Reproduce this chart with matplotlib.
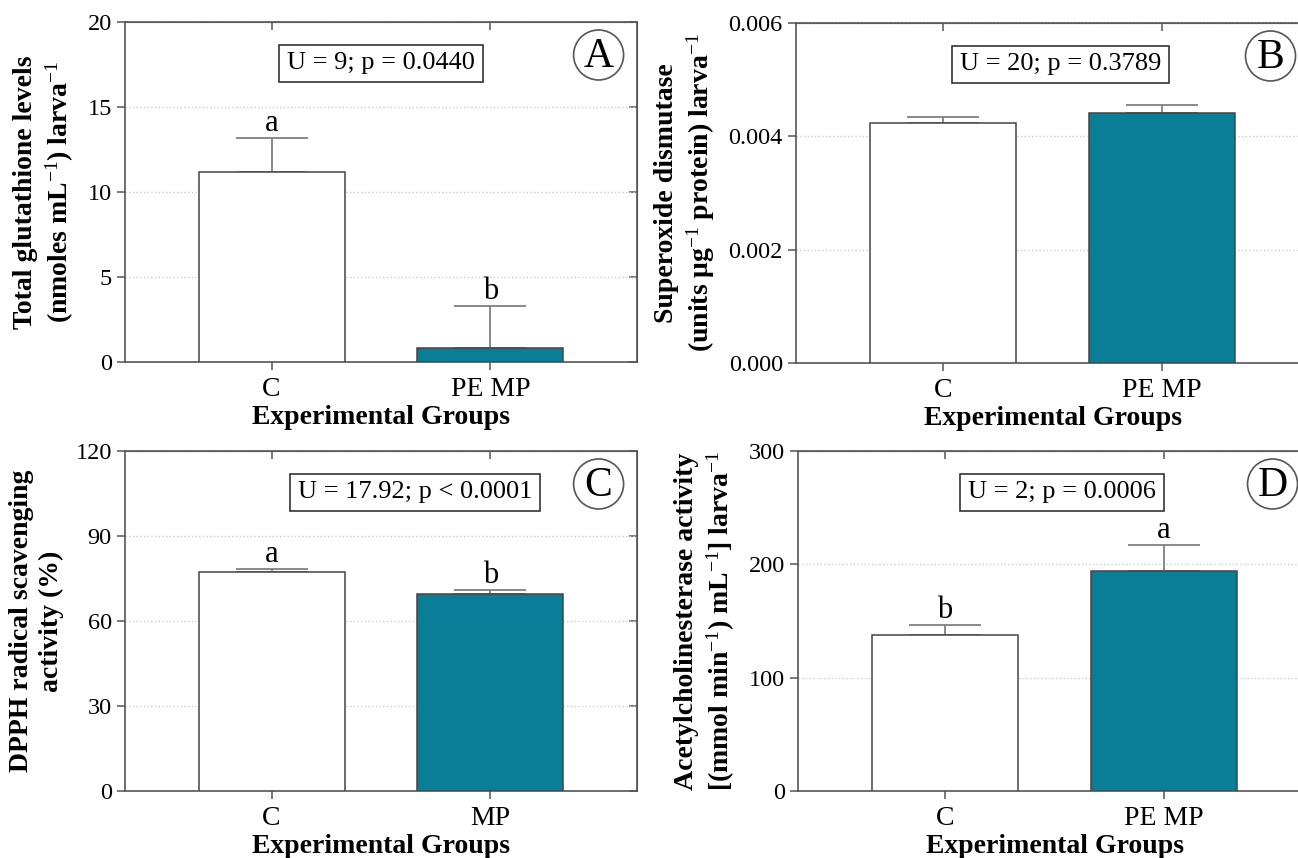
import numpy as np
import matplotlib
matplotlib.use('Agg')
import matplotlib.pyplot as plt
from matplotlib.patches import Ellipse

plt.rcParams['font.family'] = ['Liberation Serif', 'DejaVu Serif']
plt.rcParams['mathtext.fontset'] = 'custom'
plt.rcParams['mathtext.rm'] = 'Liberation Serif'
plt.rcParams['mathtext.bf'] = 'Liberation Serif:bold'
plt.rcParams['mathtext.it'] = 'Liberation Serif:italic'

# data (mean, upper error)
groups_a = ['C', 'PE MP']
gsh_mean = [11.18, 0.82]
gsh_err = [2.0, 2.5]
gsh_letters = ['a', 'b']

groups_b = ['C', 'PE MP']
sod_mean = [0.00424, 0.00441]
sod_err = [0.00011, 0.00015]
sod_letters = ['', '']

groups_c = ['C', 'MP']
dpph_mean = [77.4, 69.6]
dpph_err = [1.0, 1.2]
dpph_letters = ['a', 'b']

groups_d = ['C', 'PE MP']
ache_mean = [137.9, 194.4]
ache_err = [8.6, 23.0]
ache_letters = ['b', 'a']

colors = ['white', '#0a7e96']
edge = '#444444'
spine_col = '#555555'

W, H = 1298, 858
fig = plt.figure(figsize=(W/100, H/100), dpi=100)

def px_axes(left, top, right, bottom):
  return fig.add_axes([left/W, 1-bottom/H, (right-left)/W, (bottom-top)/H])

def panel(ax, groups, mean, err, letters, yticks, ylabel, stat, statx, tag, fmt=None):
  x = np.arange(len(groups))
  ax.bar(x, mean, width=0.667, color=colors, edgecolor=edge, linewidth=1.1, zorder=3)
  ax.errorbar(x, mean, yerr=[np.zeros(len(err)), err], fmt='none', ecolor='#808080',
              elinewidth=1.3, capsize=26, capthick=1.3, zorder=2)
  for xi, m, e, l in zip(x, mean, err, letters):
    if l:
      ax.annotate(l, (xi, m+e), xytext=(0, 0), textcoords='offset points',
                  ha='center', va='bottom', fontsize=22)
  ax.set_xlim(-0.67, 1.67)
  ax.set_ylim(yticks[0], yticks[-1])
  ax.set_yticks(yticks)
  if fmt:
    ax.set_yticklabels([fmt % t for t in yticks])
  ax.set_xticks(x)
  ax.set_xticklabels(groups, fontsize=20)
  ax.tick_params(axis='y', labelsize=17.5)
  ax.tick_params(axis='both', which='major', length=6, width=1.1, color=spine_col)
  ax.tick_params(axis='x', which='major', pad=5)
  for s in ax.spines.values():
    s.set_color(spine_col)
    s.set_linewidth(1.2)
  # mirrored ticks pointing inward on top and right
  top = ax.secondary_xaxis('top')
  top.set_xticks(x)
  top.set_xticklabels([])
  top.tick_params(direction='in', length=6, width=1.1, color=spine_col)
  top.spines['top'].set_color(spine_col)
  right = ax.secondary_yaxis('right')
  right.set_yticks(yticks)
  right.set_yticklabels([])
  right.tick_params(direction='in', length=6, width=1.1, color=spine_col)
  right.spines['right'].set_color(spine_col)
  ax.yaxis.grid(True, linestyle=':', color='#cccccc', linewidth=1)
  ax.set_axisbelow(True)
  ax.set_xlabel('Experimental Groups', fontsize=20, fontweight='bold', labelpad=2)
  ax.set_ylabel(ylabel, fontsize=20, fontweight='bold', linespacing=1.25, labelpad=8)
  ax.text(statx, 0.878, stat, transform=ax.transAxes, ha='center', va='center', fontsize=19,
          bbox=dict(boxstyle='square,pad=0.3', fc='white', ec='#333333', lw=1.2), zorder=5)
  bb = ax.get_position()
  rw = 50/(bb.width*W)
  rh = 50/(bb.height*H)
  cx, cy = 0.925, 0.903
  ax.add_patch(Ellipse((cx, cy), rw, rh, transform=ax.transAxes, fc='none', ec=spine_col,
                       lw=1.2, zorder=5, clip_on=False))
  ax.text(cx, cy-0.005, tag, transform=ax.transAxes, ha='center', va='center', fontsize=30, zorder=6)

axA = px_axes(125, 22, 637, 362)
axB = px_axes(796, 23, 1309, 363)
axC = px_axes(125, 451, 637, 791)
axD = px_axes(798, 451, 1311, 791)

panel(axA, groups_a, gsh_mean, gsh_err, gsh_letters, [0, 5, 10, 15, 20],
      'Total glutathione levels\n(nmoles mL$^{-1}$) larva$^{-1}$', 'U = 9; p = 0.0440', 0.5, 'A')
panel(axB, groups_b, sod_mean, sod_err, sod_letters, [0, 0.002, 0.004, 0.006],
      'Superoxide dismutase\n(units \u03bcg$^{-1}$ protein) larva$^{-1}$', 'U = 20; p = 0.3789', 0.515, 'B', fmt='%.3f')
panel(axC, groups_c, dpph_mean, dpph_err, dpph_letters, [0, 30, 60, 90, 120],
      'DPPH radical scavenging\nactivity (%)', 'U = 17.92; p < 0.0001', 0.566, 'C')
panel(axD, groups_d, ache_mean, ache_err, ache_letters, [0, 100, 200, 300],
      'Acetylcholinesterase activity\n[(mmol min$^{-1}$) mL$^{-1}$] larva$^{-1}$', 'U = 2; p = 0.0006', 0.515, 'D')

plt.savefig('out.png', dpi=100)
